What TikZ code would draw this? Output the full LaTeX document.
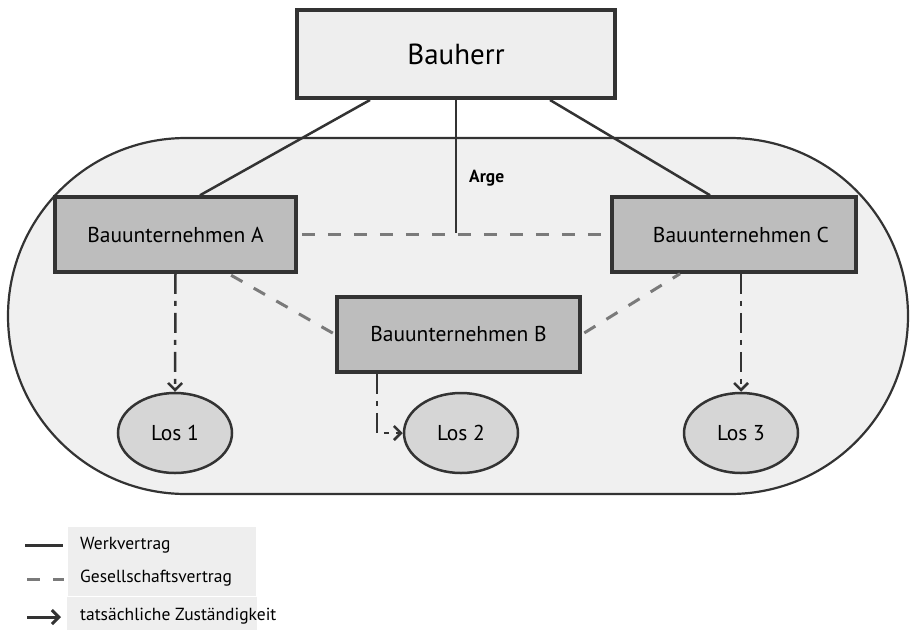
\documentclass[tikz,border=0pt]{standalone}
\usepackage{fontspec}
\setmainfont{PT Sans}
\usetikzlibrary{shapes.geometric,arrows.meta,calc}

\definecolor{edge}{HTML}{333333}
\definecolor{dashgray}{HTML}{7A7A7A}
\definecolor{regionfill}{HTML}{F0F0F0}
\definecolor{firmfill}{HTML}{BDBDBD}
\definecolor{losfill}{HTML}{D6D6D6}
\definecolor{keyfill}{HTML}{EEEEEE}

\tikzset{
  firm/.style={draw=edge, line width=3.5pt, fill=firmfill, minimum width=241pt,
    minimum height=75pt, inner sep=0pt, font=\fontsize{21.5}{26}\selectfont},
  los/.style={ellipse, draw=edge, line width=2.5pt, fill=losfill, minimum width=114pt,
    minimum height=80pt, inner sep=0pt, font=\fontsize{21.5}{26}\selectfont},
  werk/.style={draw=edge, line width=2.5pt},
  gesell/.style={draw=dashgray, line width=3pt, dash pattern=on 13pt off 13pt},
  barb/.style={-{Straight Barb[length=7pt,width=14pt,line width=2.5pt]}},
  zust/.style={draw=edge, line width=2.5pt, dash pattern=on 20pt off 7pt on 5pt off 7pt, barb},
  keytext/.style={anchor=west, inner sep=0pt, font=\fontsize{17.5}{21}\selectfont}
}

\begin{document}
\begin{tikzpicture}[x=1pt, y=-1pt]
  \useasboundingbox (0,0) rectangle (910,630);

  % joint venture region
  \draw[draw=edge, line width=2.2pt, fill=regionfill, rounded corners=178pt]
    (8,138) rectangle (908,494);

  % client
  \node[draw=edge, line width=4pt, fill=keyfill, minimum width=318pt, minimum height=88pt,
    inner sep=0pt, font=\fontsize{29}{34}\selectfont] (bauherr) at (456,54) {Bauherr};

  % contractors
  \node[firm] (A) at (175.5,234.5) {Bauunternehmen A};
  \node[firm, minimum width=243pt] (B) at (458.5,334.5) {Bauunternehmen B};
  \node[firm, minimum width=244pt] (C) at (734,234.5) {\hspace*{14pt}Bauunternehmen C};

  % lots
  \node[los] (L1) at (175,433) {Los 1};
  \node[los] (L2) at (461,433) {Los 2};
  \node[los] (L3) at (741,433) {Los 3};

  % contracts with the client
  \draw[werk] ([xshift=-86pt]bauherr.south) -- ([xshift=24.5pt]A.north);
  \draw[werk] ([xshift=94pt]bauherr.south) -- ([xshift=-24pt]C.north);
  \coordinate (argejoint) at (456,233);
  \draw[werk] (bauherr.south) -- (argejoint);
  \node[anchor=west, inner sep=0pt, font=\fontsize{17.5}{21}\selectfont\bfseries] (arge) at (469,178) {Arge};

  % partnership agreement
  \draw[gesell, dash phase=-4pt] (A.east) -- (C.west);
  \draw[gesell, dash phase=-3pt] ([xshift=53pt]A.south) -- (B.west);
  \draw[gesell, dash phase=-3pt] (B.east) -- ([xshift=-54pt]C.south);

  % actual responsibility
  \draw[zust] (A.south) -- (L1.north);
  \draw[zust] ([xshift=7pt]C.south) -- (L3.north);
  \draw[zust] ([xshift=-81.5pt]B.south) |- (L2.west);

  % key
  \fill[keyfill] (68,527) rectangle (256,596);
  \fill[keyfill] (67,597) rectangle (257,630);
  \coordinate (k1a) at (25,545); \coordinate (k1b) at (63,545);
  \coordinate (k2a) at (27,579); \coordinate (k2b) at (64,579);
  \coordinate (k3a) at (27,617); \coordinate (k3b) at (61,617);
  \draw[werk, line width=3pt] (k1a) -- (k1b);
  \draw[gesell] (k2a) -- (k2b);
  \draw[draw=edge, line width=3pt, -{Straight Barb[length=7pt,width=14pt,line width=3pt]}] (k3a) -- (k3b);
  \node[keytext] (t1) at (80,545) {Werkvertrag};
  \node[keytext] (t2) at (80,578) {Gesellschaftsvertrag};
  \node[keytext] (t3) at (80,616) {tatsächliche Zuständigkeit};
\end{tikzpicture}
\end{document}
